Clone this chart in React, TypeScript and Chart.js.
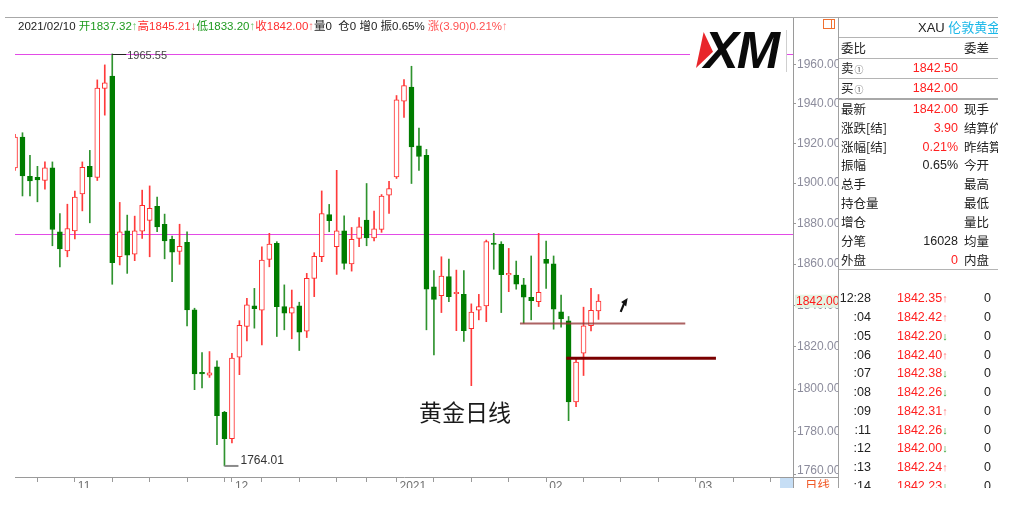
import React, { useEffect, useRef } from 'react';
import { Chart, registerables } from 'chart.js';
Chart.register(...registerables);

// ---------- data ----------
const dates = [
  '2020/10/21','2020/10/22','2020/10/23','2020/10/26','2020/10/27','2020/10/28','2020/10/29','2020/10/30',
  '2020/11/02','2020/11/03','2020/11/04','2020/11/05','2020/11/06','2020/11/09','2020/11/10','2020/11/11','2020/11/12','2020/11/13',
  '2020/11/16','2020/11/17','2020/11/18','2020/11/19','2020/11/20','2020/11/23','2020/11/24','2020/11/25','2020/11/26','2020/11/27','2020/11/30',
  '2020/12/01','2020/12/02','2020/12/03','2020/12/04','2020/12/07','2020/12/08','2020/12/09','2020/12/10','2020/12/11',
  '2020/12/14','2020/12/15','2020/12/16','2020/12/17','2020/12/18','2020/12/21','2020/12/22','2020/12/23','2020/12/24',
  '2020/12/28','2020/12/29','2020/12/30','2020/12/31',
  '2021/01/04','2021/01/05','2021/01/06','2021/01/07','2021/01/08','2021/01/11','2021/01/12','2021/01/13','2021/01/14','2021/01/15',
  '2021/01/18','2021/01/19','2021/01/20','2021/01/21','2021/01/22','2021/01/25','2021/01/26','2021/01/27','2021/01/28','2021/01/29',
  '2021/02/01','2021/02/02','2021/02/03','2021/02/04','2021/02/05','2021/02/08','2021/02/09','2021/02/10',
];
const futureDates = [
  '2021/02/11','2021/02/12','2021/02/15','2021/02/16','2021/02/17','2021/02/18','2021/02/19',
  '2021/02/22','2021/02/23','2021/02/24','2021/02/25','2021/02/26',
  '2021/03/01','2021/03/02','2021/03/03','2021/03/04','2021/03/05',
  '2021/03/08','2021/03/09','2021/03/10','2021/03/11','2021/03/12',
  '2021/03/15','2021/03/16','2021/03/17','2021/03/18',
];
const opens = [
  1907.6, 1923.1, 1903.4, 1902.9, 1901.3, 1907.6, 1875.9, 1866.5, 1876.3, 1894.6,
  1908.4, 1902.8, 1947.8, 1954.1, 1863.6, 1876.3, 1864.9, 1876.2, 1881.5, 1888.5,
  1879.5, 1872.1, 1866.2, 1870.7, 1837.8, 1807.7, 1806.6, 1810.5, 1789.0, 1776.7,
  1815.1, 1829.8, 1839.7, 1837.6, 1862.3, 1870.2, 1839.4, 1836.2, 1839.8, 1827.6,
  1853.1, 1863.6, 1884.4, 1868.5, 1876.3, 1860.1, 1872.6, 1881.6, 1872.9, 1877.0,
  1894.0, 1903.1, 1941.3, 1948.5, 1918.7, 1913.9, 1849.0, 1844.7, 1853.9, 1845.6,
  1845.3, 1828.7, 1837.6, 1839.7, 1870.1, 1869.8, 1854.8, 1854.7, 1849.9, 1843.9,
  1841.8, 1862.3, 1860.1, 1836.8, 1832.5, 1793.9, 1817.0, 1830.2, 1837.32,
];
const highs = [
  1924.5, 1925.3, 1913.9, 1908.4, 1910.6, 1910.6, 1884.9, 1889.5, 1896.0, 1910.6,
  1916.4, 1952.2, 1959.9, 1965.55, 1890.4, 1884.1, 1883.6, 1896.5, 1898.6, 1893.1,
  1884.6, 1873.7, 1879.6, 1875.9, 1838.6, 1817.3, 1817.8, 1813.4, 1789.5, 1817.0,
  1832.6, 1843.4, 1848.2, 1868.5, 1875.1, 1871.0, 1849.9, 1847.4, 1841.5, 1855.5,
  1865.6, 1896.1, 1889.4, 1906.4, 1883.7, 1878.0, 1882.9, 1899.8, 1886.1, 1894.3,
  1900.9, 1944.2, 1952.4, 1959.2, 1927.7, 1916.9, 1856.8, 1863.6, 1862.5, 1857.1,
  1856.8, 1840.7, 1845.3, 1871.8, 1875.1, 1871.0, 1867.7, 1861.5, 1853.1, 1864.0,
  1875.1, 1871.3, 1864.0, 1845.0, 1834.6, 1814.1, 1839.1, 1848.2, 1845.21,
];
const lows = [
  1906.4, 1893.6, 1893.6, 1890.7, 1897.0, 1869.0, 1858.7, 1863.6, 1872.3, 1886.2,
  1880.3, 1901.3, 1934.2, 1850.2, 1859.6, 1855.5, 1861.7, 1872.6, 1863.6, 1875.9,
  1862.6, 1851.5, 1859.9, 1830.1, 1799.7, 1800.5, 1805.5, 1773.9, 1764.01, 1774.7,
  1806.8, 1822.9, 1829.0, 1821.0, 1858.7, 1825.0, 1828.2, 1823.9, 1818.3, 1824.5,
  1844.2, 1861.2, 1875.9, 1855.0, 1857.5, 1856.6, 1868.5, 1869.0, 1871.4, 1875.6,
  1884.9, 1902.3, 1933.1, 1899.8, 1906.4, 1828.2, 1816.2, 1836.5, 1841.8, 1827.8,
  1822.6, 1801.6, 1833.0, 1832.1, 1857.5, 1836.5, 1846.6, 1847.8, 1831.4, 1833.0,
  1839.4, 1848.2, 1828.5, 1829.5, 1785.1, 1791.7, 1806.4, 1827.7, 1833.20,
];
const closes = [
  1923.1, 1903.6, 1901.1, 1901.6, 1907.6, 1877.0, 1867.4, 1877.5, 1893.1, 1907.9,
  1903.1, 1948.0, 1950.7, 1860.7, 1875.9, 1864.4, 1876.3, 1888.9, 1887.4, 1878.3,
  1871.4, 1865.8, 1868.7, 1837.8, 1807.2, 1807.2, 1807.7, 1787.5, 1776.7, 1814.7,
  1830.4, 1840.2, 1838.4, 1862.0, 1869.8, 1839.4, 1836.2, 1838.9, 1827.1, 1853.1,
  1863.8, 1884.9, 1881.3, 1876.3, 1860.4, 1872.1, 1878.3, 1872.9, 1877.3, 1893.6,
  1897.3, 1942.0, 1949.3, 1918.1, 1913.3, 1847.8, 1842.9, 1854.2, 1844.2, 1846.1,
  1827.8, 1836.7, 1839.4, 1871.0, 1869.6, 1854.9, 1855.3, 1850.3, 1843.9, 1842.3,
  1846.3, 1860.4, 1838.1, 1833.4, 1793.9, 1812.8, 1830.1, 1837.6, 1842.00,
];
const yTicks = [1760, 1780, 1800, 1820, 1840, 1860, 1880, 1900, 1920, 1940, 1960];
const yMin = 1758.9;
const yMax = 1984.7;
const lastPrice = 1842.0;
const magentaLevels = [1965.55, 1874.8];
const markLines = [
  { value: 1831.2, from: 67.5, to: 89.6, color: 'rgba(150,55,55,0.78)', width: 2 },
  { value: 1814.6, from: 73.7, to: 93.7, color: '#7a0000', width: 3 },
];
const highMark = { index: 13, value: 1965.55 };
const lowMark = { index: 28, value: 1764.01 };
const arrowAnchor = { index: 81.9, value: 1843.6 };

const headerParts: [string, string][] = [
  ['2021/02/10 ', '#222'],
  ['开1837.32', '#1f9a1f'], ['↑', '#6cc46c'],
  ['高1845.21', '#ff3030'], ['↓', '#d83a3a'],
  ['低1833.20', '#1f9a1f'], ['↑', '#6cc46c'],
  ['收1842.00', '#ff3030'], ['↑', '#ff7070'],
  ['量0  仓0 增0 振0.65% ', '#222'],
  ['涨(3.90)0.21%', '#ff5050'], ['↑', '#ff8080'],
];
const quoteLabels = ['委比', '卖', '买', '最新', '涨跌[结]', '涨幅[结]', '振幅', '总手', '持仓量', '增仓', '分笔', '外盘'];
const quoteValues = ['', '1842.50', '1842.00', '1842.00', '3.90', '0.21%', '0.65%', '', '', '', '16028', '0'];
const quoteValueRed = [false, true, true, true, true, true, false, false, false, false, false, true];
const quoteRightLabels = ['委差', '', '', '现手', '结算价', '昨结算', '今开', '最高', '最低', '量比', '均量', '内盘'];
const tradeTimes = ['12:28', ':04', ':05', ':06', ':07', ':08', ':09', ':11', ':12', ':13', ':14'];
const tradePrices = ['1842.35', '1842.42', '1842.20', '1842.40', '1842.38', '1842.26', '1842.31', '1842.26', '1842.00', '1842.24', '1842.23'];
const tradeUp = [true, true, false, true, false, false, true, false, false, true, false];
const tradeVolumes = ['0', '0', '0', '0', '0', '0', '0', '0', '0', '0', '0'];

// ---------- helpers ----------
const LATIN = "'Liberation Sans', Arial, 'Noto Sans CJK SC', sans-serif";
const CJK = "'Noto Sans CJK SC', 'Liberation Sans', sans-serif";
const allLabels = [...dates, ...futureDates];
const dayOf = (s: string) => new Date(s.replace(/\//g, '-') + 'T00:00:00Z').getUTCDay();
const tickSet = new Set<number>();
const monthLabel: Record<number, string> = {};
allLabels.forEach((d, i) => {
  if (i === 0) return;
  const prev = allLabels[i - 1];
  if (dayOf(d) < dayOf(prev)) tickSet.add(i);
  if (d.slice(5, 7) !== prev.slice(5, 7)) {
    tickSet.add(i);
    monthLabel[i] = d.slice(5, 7) === '01' ? d.slice(0, 4) : d.slice(5, 7);
  }
});

const overlay = {
  id: 'overlay',
  beforeDatasetsDraw(chart: any) {
    const { ctx, chartArea: a, scales } = chart;
    const y = scales.y;
    ctx.save();
    ctx.beginPath();
    ctx.rect(a.left, a.top, a.right - a.left, a.bottom - a.top);
    ctx.clip();
    ctx.strokeStyle = '#e24be6';
    ctx.lineWidth = 1;
    for (const v of magentaLevels) {
      const py = Math.round(y.getPixelForValue(v)) + 0.5;
      ctx.beginPath();
      ctx.moveTo(a.left, py);
      ctx.lineTo(a.right, py);
      ctx.stroke();
    }
    ctx.restore();
  },
  afterDatasetsDraw(chart: any) {
    const { ctx, scales } = chart;
    const x = scales.x, y = scales.y;
    ctx.save();
    for (const s of markLines) {
      const py = y.getPixelForValue(s.value);
      ctx.strokeStyle = s.color;
      ctx.lineWidth = s.width;
      ctx.beginPath();
      ctx.moveTo(x.getPixelForValue(s.from), py);
      ctx.lineTo(x.getPixelForValue(s.to), py);
      ctx.stroke();
    }
    ctx.font = "11px " + LATIN;
    ctx.textAlign = 'left';
    // high marker
    const hx = x.getPixelForValue(highMark.index);
    const hy = Math.round(y.getPixelForValue(highMark.value)) + 0.5;
    ctx.strokeStyle = '#222';
    ctx.lineWidth = 1;
    ctx.beginPath();
    ctx.moveTo(hx, hy);
    ctx.lineTo(hx + 14, hy);
    ctx.stroke();
    ctx.fillStyle = '#444';
    ctx.textBaseline = 'middle';
    ctx.fillText(highMark.value.toFixed(2), hx + 15, hy + 1);
    // low marker
    const lx = x.getPixelForValue(lowMark.index);
    const ly = y.getPixelForValue(lowMark.value);
    ctx.strokeStyle = '#8a8a8a';
    ctx.lineWidth = 2;
    ctx.beginPath();
    ctx.moveTo(lx, ly);
    ctx.lineTo(lx + 14, ly);
    ctx.stroke();
    ctx.fillStyle = '#333';
    ctx.font = "12px " + LATIN;
    ctx.textBaseline = 'alphabetic';
    ctx.fillText(lowMark.value.toFixed(2), lx + 16, ly - 1.5);
    // arrow
    const tx = x.getPixelForValue(arrowAnchor.index);
    const ty = y.getPixelForValue(arrowAnchor.value);
    ctx.fillStyle = '#111';
    ctx.beginPath();
    ctx.moveTo(tx, ty);
    ctx.lineTo(tx - 6.5, ty + 4);
    ctx.lineTo(tx - 1.5, ty + 8.5);
    ctx.closePath();
    ctx.fill();
    ctx.strokeStyle = '#111';
    ctx.lineWidth = 2.2;
    ctx.beginPath();
    ctx.moveTo(tx - 3.5, ty + 5.5);
    ctx.lineTo(tx - 7, ty + 14);
    ctx.stroke();
    ctx.restore();
  },
  afterDraw(chart: any) {
    const { ctx, chartArea: a, scales } = chart;
    const y = scales.y;
    ctx.save();
    ctx.font = "12px " + LATIN;
    ctx.textAlign = 'left';
    ctx.textBaseline = 'middle';
    // bottom tick label kept inside
    const by = Math.min(y.getPixelForValue(yTicks[0]), a.bottom - 6.5);
    ctx.fillStyle = '#8c8c9c';
    ctx.fillText(yTicks[0].toFixed(2), y.left + 4, by);
    // last price label
    const py = y.getPixelForValue(lastPrice);
    ctx.fillStyle = '#e4f4e4';
    ctx.fillRect(y.left + 2, py - 6.5, 44, 13);
    ctx.fillStyle = '#ff1a1a';
    ctx.fillText(lastPrice.toFixed(2), y.left + 3, py + 0.5);
    ctx.restore();
  },
};

export default function App() {
  const canvasRef = useRef<HTMLCanvasElement>(null);

  useEffect(() => {
    const el = canvasRef.current;
    if (!el) return;
    Chart.defaults.font.family = LATIN;
    const up = closes.map((c, i) => c > opens[i]);
    const chart = new Chart(el, {
      type: 'bar',
      data: {
        labels: allLabels,
        datasets: [
          {
            label: 'body',
            data: opens.map((o, i) => [Math.min(o, closes[i]), Math.max(o, closes[i])]) as any,
            backgroundColor: up.map((u) => (u ? '#ffffff' : '#007d00')),
            borderColor: up.map((u) => (u ? '#ff2b2b' : '#007d00')),
            borderWidth: 1,
            borderSkipped: false,
            barThickness: 5,
            minBarLength: 1.5,
            grouped: false,
            order: 0,
          } as any,
          {
            label: 'wick',
            data: lows.map((l, i) => [l, highs[i]]) as any,
            backgroundColor: up.map((u) => (u ? '#ff3b3b' : '#2f932f')),
            borderWidth: 0,
            barThickness: 1,
            grouped: false,
            order: 1,
          } as any,
        ],
      },
      options: {
        responsive: false,
        animation: false,
        events: [],
        layout: { padding: { left: 15, top: 17, right: 0, bottom: 0 } },
        plugins: { legend: { display: false }, tooltip: { enabled: false } },
        scales: {
          x: {
            type: 'category',
            offset: false,
            grid: {
              offset: false,
              drawOnChartArea: false,
              drawTicks: true,
              tickLength: 5,
              color: (c: any) => (tickSet.has(c.index) ? '#9a9a9a' : 'rgba(0,0,0,0)'),
            },
            border: { display: true, color: '#9a9a9a' },
            ticks: {
              autoSkip: false,
              maxRotation: 0,
              minRotation: 0,
              align: 'start',
              labelOffset: 3,
              padding: -3,
              color: '#707070',
              font: { size: 12 },
              callback: (_v: any, i: number) => monthLabel[i] ?? '',
            },
            afterFit: (s: any) => { s.height = 30; },
          },
          y: {
            type: 'logarithmic',
            position: 'right',
            min: yMin,
            max: yMax,
            bounds: 'data',
            grid: { drawOnChartArea: false, tickLength: 3, color: '#9a9a9a' },
            border: { display: true, color: '#9a9a9a' },
            ticks: {
              padding: 1,
              color: '#8c8c9c',
              font: { size: 12 },
              callback: (v: any) => (Number(v) === yTicks[0] ? '' : Number(v).toFixed(2)),
            },
            afterBuildTicks: (s: any) => { s.ticks = yTicks.map((v) => ({ value: v })); },
            afterFit: (s: any) => { s.width = 45; },
          },
        } as any,
      },
      plugins: [overlay],
    });
    return () => chart.destroy();
  }, []);

  const P = 838; // panel left
  const abs = (l: number, t: number, extra: any = {}) => ({ position: 'absolute', left: l, top: t, ...extra } as React.CSSProperties);
  const rowY = (k: number) => (k === 0 ? 47.7 : k === 1 ? 67.5 : k === 2 ? 88 : 108.7 + (k - 3) * 18.9);

  return (
    <div style={{ position: 'absolute', left: 0, top: 0, width: 1023, height: 488, overflow: 'hidden', background: '#fff', fontFamily: LATIN }}>
      <canvas ref={canvasRef} width={838} height={507} style={{ position: 'absolute', left: 0, top: 0, width: 838, height: 507 }} />
      {/* frame lines */}
      <div style={abs(5, 17, { width: 993, height: 1, background: '#a8a8a8' })} />
      <div style={abs(793, 477, { width: 45, height: 1, background: '#9a9a9a' })} />
      <div style={abs(793, 477, { width: 1, height: 12, background: '#9a9a9a' })} />
      {/* header */}
      <div style={abs(18, 19, { fontSize: 11.5, lineHeight: '14px', whiteSpace: 'pre' })}>
        {headerParts.map(([t, c], i) => (
          <span key={i} style={{ color: c }}>{t}</span>
        ))}
      </div>
      {/* logo */}
      <div style={abs(690, 29, { width: 96, height: 41, background: '#fff', overflow: 'hidden' })}>
        <div style={abs(6, 3, { width: 17, height: 36, background: '#e8262b', clipPath: 'polygon(45% 0%, 100% 55%, 0% 100%)' })} />
        <div style={abs(14, -5, { fontSize: 52, lineHeight: '52px', fontWeight: 900, fontStyle: 'italic', letterSpacing: -2, color: '#0a0a0a', fontFamily: LATIN })}>XM</div>
      </div>
      <div style={abs(786, 30, { width: 1, height: 42, background: '#cfcfcf' })} />
      {/* orange icon */}
      <div style={abs(823, 19, { width: 10, height: 8, border: '1px solid #f07030' })}>
        <div style={abs(7, 0, { width: 1, height: 8, background: '#f07030' })} />
      </div>
      {/* chart title */}
      <div style={abs(419, 400, { fontSize: 23, lineHeight: '23px', fontFamily: CJK, color: '#1a1a1a' })}>黄金日线</div>
      {/* bottom period tag */}
      <div style={abs(780, 478, { width: 13, height: 11, background: '#c6def5' })} />
      <div style={abs(805, 477, { fontSize: 12.5, lineHeight: '16px', fontFamily: CJK, color: '#f05a28' })}>日线</div>
      {/* right panel */}
      <div style={abs(P, 17, { width: 160, height: 471, overflow: 'hidden', borderLeft: '1px solid #a0a0a0', boxSizing: 'border-box' })}>
        <div style={abs(917 - P, 27.3 - 17 - 8, { fontSize: 13, lineHeight: '16px', whiteSpace: 'nowrap' })}>
          <span style={{ color: '#222' }}>XAU </span>
          <span style={{ color: '#1cb8e8', fontFamily: CJK }}>伦敦黄金(XAU)</span>
        </div>
        {[36.7, 58.3, 78.3].map((ly) => (
          <div key={ly} style={abs(0, ly - 17, { width: 160, height: 1, background: '#b4b4b4' })} />
        ))}
        <div style={abs(0, 98 - 17, { width: 160, height: 2, background: '#a8a8a8' })} />
        <div style={abs(0, 269 - 17, { width: 160, height: 1, background: '#b4b4b4' })} />
        {quoteLabels.map((lab, k) => {
          const top = rowY(k) - 17 - 8;
          return (
            <React.Fragment key={k}>
              <div style={abs(2, top, { fontSize: 12.5, lineHeight: '16px', fontFamily: CJK, color: '#222', whiteSpace: 'nowrap' })}>
                {lab}
                {(k === 1 || k === 2) && <span style={{ fontSize: 9, color: '#555', marginLeft: 1 }}>①</span>}
              </div>
              {quoteValues[k] && (
                <div style={abs(60, top, { width: 59, textAlign: 'right', fontSize: 12.5, lineHeight: '16px', color: quoteValueRed[k] ? '#ff2020' : '#222' })}>{quoteValues[k]}</div>
              )}
              {quoteRightLabels[k] && (
                <div style={abs(125, top, { fontSize: 12.5, lineHeight: '16px', fontFamily: CJK, color: '#222', whiteSpace: 'nowrap' })}>{quoteRightLabels[k]}</div>
              )}
            </React.Fragment>
          );
        })}
        {tradeTimes.map((t, k) => {
          const top = 298.3 + k * 18.75 - 17 - 8;
          return (
            <React.Fragment key={'t' + k}>
              <div style={abs(0, top, { width: 32, textAlign: 'right', fontSize: 12.5, lineHeight: '16px', color: '#222' })}>{t}</div>
              <div style={abs(58, top, { fontSize: 12.5, lineHeight: '16px', color: '#ff2020', whiteSpace: 'nowrap' })}>
                {tradePrices[k]}
                <span style={{ color: tradeUp[k] ? '#ff7a7a' : '#3aa53a', fontSize: 11 }}>{tradeUp[k] ? '↑' : '↓'}</span>
              </div>
              <div style={abs(120, top, { width: 32, textAlign: 'right', fontSize: 12.5, lineHeight: '16px', color: '#222' })}>{tradeVolumes[k]}</div>
            </React.Fragment>
          );
        })}
      </div>
    </div>
  );
}
